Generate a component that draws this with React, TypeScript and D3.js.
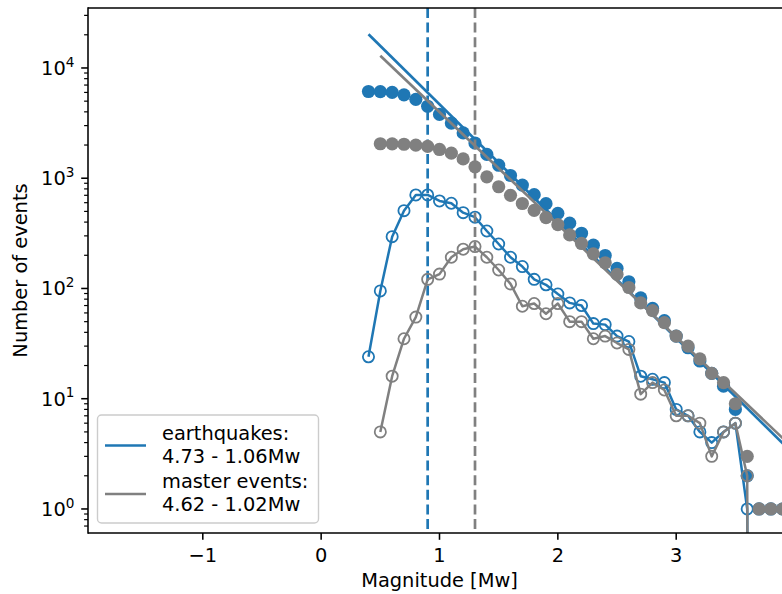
import React from "react";
import * as d3 from "d3";

// ---------- data ----------
const magEq = [0.4, 0.5, 0.6, 0.7, 0.8, 0.9, 1.0, 1.1, 1.2, 1.3, 1.4, 1.5, 1.6, 1.7, 1.8, 1.9, 2.0, 2.1, 2.2, 2.3, 2.4, 2.5, 2.6, 2.7, 2.8, 2.9, 3.0, 3.1, 3.2, 3.3, 3.4, 3.5, 3.6, 3.7, 3.8, 3.9];
const cumEq = [6121, 6097, 6002, 5707, 5199, 4494, 3789, 3167, 2574, 2087, 1644, 1312, 1059, 867, 709, 588, 480, 391, 317, 247, 199, 152, 115, 82, 66, 51, 37, 29, 22, 17, 13, 8, 2, 1, 1, 1];
const binEq = [24, 95, 295, 508, 705, 705, 622, 593, 487, 443, 332, 253, 192, 158, 121, 108, 89, 74, 70, 48, 47, 37, 33, 16, 15, 14, 8, 7, 5, 4, 5, 6, 1, 0, 0, 0];

const magMe = [0.5, 0.6, 0.7, 0.8, 0.9, 1.0, 1.1, 1.2, 1.3, 1.4, 1.5, 1.6, 1.7, 1.8, 1.9, 2.0, 2.1, 2.2, 2.3, 2.4, 2.5, 2.6, 2.7, 2.8, 2.9, 3.0, 3.1, 3.2, 3.3, 3.4, 3.5, 3.6, 3.7, 3.8, 3.9];
const cumMe = [2055, 2050, 2034, 1999, 1944, 1823, 1688, 1496, 1269, 1029, 837, 700, 590, 511, 440, 379, 306, 256, 206, 171, 134, 102, 74, 63, 49, 37, 30, 23, 17, 14, 9, 3, 1, 1, 1];
const binMe = [5, 16, 35, 55, 121, 135, 192, 227, 240, 192, 147, 110, 69, 73, 59, 73, 50, 50, 35, 37, 32, 28, 11, 14, 12, 7, 7, 6, 3, 5, 6, 2, 0, 0, 0];

const seriesNames = ["earthquakes:", "master events:"];
const fitLabels = ["4.73 - 1.06Mw", "4.62 - 1.02Mw"];
const fitA = [4.73, 4.62];
const fitB = [1.06, 1.02];
const fitStart = [0.4, 0.5];
const fitEnd = [4.6, 4.6];
const mc = [0.9, 1.3];
const colors = ["#1f77b4", "#808080"];

const xTicks = [-1, 0, 1, 2, 3, 4];
const yExp = [0, 1, 2, 3, 4];

// ---------- layout ----------
const W = 782;
const H = 594;
const L = 88, R = 791, T = 8, B = 533;
const FONT = "DejaVu Sans, sans-serif";
const FS = 19.4;

const x = d3.scaleLinear().domain([-1.97, 3.97]).range([L, R]);
const y = d3.scaleLog().domain([Math.pow(10, -0.218), Math.pow(10, 4.544)]).range([B, T]);
const yv = (v: number) => (v > 0 ? y(v) : y(1e-30));

const lineGen = d3
  .line<[number, number]>()
  .x((d) => x(d[0]))
  .y((d) => yv(d[1]));

function Series({ mags, cum, bin, color, idx }: any) {
  const fitPts: [number, number][] = [
    [fitStart[idx], Math.pow(10, fitA[idx] - fitB[idx] * fitStart[idx])],
    [fitEnd[idx], Math.pow(10, fitA[idx] - fitB[idx] * fitEnd[idx])],
  ];
  const binPts: [number, number][] = mags.map((m: number, i: number) => [m, bin[i]]);
  return (
    <g>
      {mags.map((m: number, i: number) =>
        cum[i] > 0 ? <circle key={"c" + i} cx={x(m)} cy={y(cum[i])} r={6.6} fill={color} /> : null
      )}
      <path d={lineGen(binPts) || ""} fill="none" stroke={color} strokeWidth={2.5} strokeLinejoin="round" />
      {mags.map((m: number, i: number) =>
        bin[i] > 0 ? (
          <circle key={"o" + i} cx={x(m)} cy={y(bin[i])} r={5.6} fill="none" stroke={color} strokeWidth={1.8} />
        ) : null
      )}
      <path d={lineGen(fitPts) || ""} fill="none" stroke={color} strokeWidth={2.7} />
      <line x1={x(mc[idx])} x2={x(mc[idx])} y1={T} y2={B} stroke={color} strokeWidth={2.7} strokeDasharray="10,4.6" />
    </g>
  );
}

export default function App() {
  const minor: number[] = [];
  for (let e = -1; e <= 4; e++) {
    for (let k = 2; k <= 9; k++) {
      const v = k * Math.pow(10, e);
      const py = y(v);
      if (py >= T && py <= B) minor.push(v);
    }
  }
  return (
    <svg
      width={W}
      height={H}
      style={{ position: "absolute", left: 0, top: 0, background: "#fff" }}
      fontFamily={FONT}
    >
      <defs>
        <clipPath id="ax">
          <rect x={L} y={T} width={R - L} height={B - T} />
        </clipPath>
      </defs>
      <rect x={0} y={0} width={W} height={H} fill="#fff" />
      <g clipPath="url(#ax)">
        <Series mags={magEq} cum={cumEq} bin={binEq} color={colors[0]} idx={0} />
        <Series mags={magMe} cum={cumMe} bin={binMe} color={colors[1]} idx={1} />
      </g>
      {/* spines */}
      <line x1={L} x2={L} y1={T - 0.8} y2={B + 0.8} stroke="#000" strokeWidth={1.55} />
      <line x1={L} x2={W} y1={B} y2={B} stroke="#000" strokeWidth={1.55} />
      <line x1={L} x2={W} y1={T} y2={T} stroke="#000" strokeWidth={1.55} />
      {/* x ticks */}
      {xTicks.map((t) =>
        x(t) <= W ? (
          <g key={"xt" + t}>
            <line x1={x(t)} x2={x(t)} y1={B} y2={B + 6.8} stroke="#000" strokeWidth={1.55} />
            <text x={x(t)} y={562} textAnchor="middle" fontSize={FS} fill="#000">
              {t < 0 ? "\u2212" + Math.abs(t) : String(t)}
            </text>
          </g>
        ) : null
      )}
      {/* y ticks */}
      {yExp.map((e) => {
        const py = y(Math.pow(10, e));
        return (
          <g key={"yt" + e}>
            <line x1={L - 6.8} x2={L} y1={py} y2={py} stroke="#000" strokeWidth={1.55} />
            <text x={L - 13.6} y={py + 7} textAnchor="end" fontSize={FS} fill="#000">
              <tspan>10</tspan>
              <tspan dy={-8.3} fontSize={13.6}>
                {String(e)}
              </tspan>
            </text>
          </g>
        );
      })}
      {minor.map((v, i) => (
        <line key={"mn" + i} x1={L - 3.9} x2={L} y1={y(v)} y2={y(v)} stroke="#000" strokeWidth={1.2} />
      ))}
      {/* axis labels */}
      <text x={(L + R) / 2} y={587} textAnchor="middle" fontSize={FS} fill="#000">
        Magnitude [Mw]
      </text>
      <text
        transform={`translate(27, ${(T + B) / 2}) rotate(-90)`}
        textAnchor="middle"
        fontSize={FS}
        fill="#000"
      >
        Number of events
      </text>
      {/* legend */}
      <rect x={97.5} y={415} width={221} height={108} rx={4} fill="#fff" fillOpacity={0.8} stroke="#cccccc" strokeWidth={1.4} />
      {seriesNames.map((n, i) => {
        const base = i === 0 ? 440 : 488;
        const cy = i === 0 ? 445.5 : 494;
        return (
          <g key={"lg" + i}>
            <line x1={105} x2={146} y1={cy} y2={cy} stroke={colors[i]} strokeWidth={2.7} />
            <text fontSize={FS} fill="#000">
              <tspan x={162} y={base}>
                {n}
              </tspan>
              <tspan x={162} dy={22.5}>
                {fitLabels[i]}
              </tspan>
            </text>
          </g>
        );
      })}
    </svg>
  );
}
